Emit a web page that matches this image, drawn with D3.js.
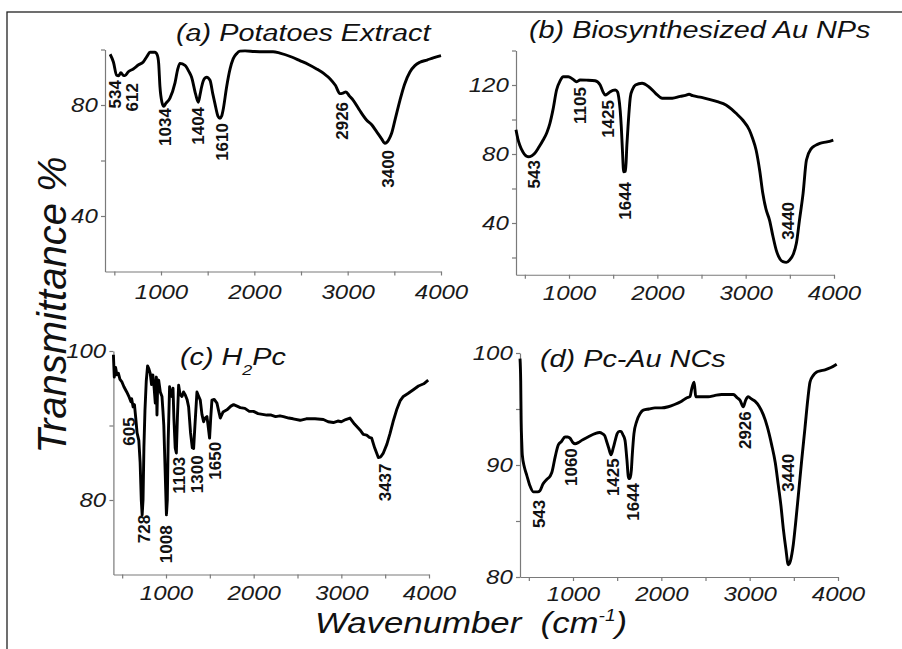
<!DOCTYPE html>
<html>
<head>
<meta charset="utf-8">
<title>FTIR spectra</title>
<script src="https://cdn.jsdelivr.net/npm/d3@7"></script>
<style>
  body { margin: 0; background: #fff; }
  text { font-family: "Liberation Sans", Arial, sans-serif; }
</style>
</head>
<body>
<div id="chart"></div>
<script>
// (a) Potatoes Extract
var waveA = [455, 490, 525, 545, 570, 600, 614, 650, 703, 760, 810, 850, 882, 935, 960, 975, 989, 1010, 1030, 1050,
  1096, 1150, 1180, 1203, 1257, 1300, 1328, 1370, 1400, 1420, 1435, 1465, 1489, 1525, 1555, 1578, 1610, 1632, 1650, 1667,
  1703, 1740, 1774, 1810, 1846, 1900, 2000, 2100, 2200, 2274, 2400, 2488, 2580, 2667, 2750, 2810, 2870, 2917, 2950, 2981,
  3020, 3060, 3130, 3202, 3260, 3310, 3360, 3400, 3440, 3471, 3510, 3560, 3610, 3667, 3720, 3774, 3850, 3917, 4000];
var transA = [98.3, 95.5, 90.7, 90.5, 91.6, 90.6, 90.6, 92, 93, 94.5, 95.5, 97.5, 99, 99, 98, 95, 86.5, 81, 79.5, 80.5,
  82.5, 88, 93, 95, 94.3, 92, 90, 84, 81, 84, 86.5, 89.5, 90, 88.9, 84, 80.5, 76, 75.2, 76, 78.5,
  86.5, 93, 96.7, 98.5, 99.4, 99.5, 99.3, 99.2, 99.2, 98.7, 97.3, 96, 94.6, 93, 91.2, 89.5, 87, 84.1, 84.3, 84.7,
  83.2, 81.7, 78, 74.6, 72.8, 70.4, 68, 66.2, 67.5, 69.8, 75, 81.7, 87.5, 91.9, 94.2, 95.4, 96.2, 97, 97.8];
var peaksA = [["534", 507, 89.0], ["612", 686, 87.9], ["1034", 1043, 78.9], ["1404", 1400, 79.3],
  ["1610", 1650, 73.5], ["2926", 2942, 81.1], ["3400", 3435, 63.8]];

// (b) Biosynthesized Au NPs
var waveB = [400, 420, 442, 480, 537, 580, 613, 660, 707, 750, 784, 820, 859, 900, 935, 992, 1040, 1087, 1125, 1200,
  1296, 1353, 1385, 1410, 1440, 1467, 1524, 1550, 1562, 1580, 1592, 1605, 1619, 1640, 1655, 1668, 1695, 1720, 1752, 1827,
  1903, 1980, 2055, 2169, 2260, 2320, 2359, 2400, 2500, 2587, 2680, 2777, 2840, 2891, 2966, 3042, 3080, 3118, 3160, 3194,
  3230, 3270, 3310, 3346, 3390, 3422, 3460, 3498, 3540, 3574, 3610, 3650, 3688, 3745, 3790, 3840, 3920, 3992];
var transB = [94, 89, 85.2, 81, 78.4, 79, 80.4, 84, 88.1, 92.5, 97.8, 106, 117.1, 122.5, 124.8, 124.8, 123.5, 121.9, 122.9, 122.8,
  122.5, 120, 116, 114.2, 115, 116.1, 117.1, 116, 113.2, 105, 95.8, 82, 69.7, 70, 85, 95.8, 113.2, 117.5, 120, 121,
  119, 115.2, 112.3, 112.3, 113.4, 114, 114.6, 113.8, 112.8, 111.7, 110.3, 108.4, 106, 103.6, 99.7, 93.9, 88.8, 82.3, 70, 57.2,
  48, 41.7, 32, 24.3, 19, 17.6, 17.2, 18.6, 22, 28.2, 42, 57.2, 76.5, 83.3, 85, 86.2, 87, 88.1];
var peaksB = [["543", 607, 76.5], ["1105", 1125, 118.8], ["1425", 1445, 111.3],
  ["1644", 1634, 63.8], ["3440", 3482, 52.2]];

// (c) H2Pc
var waveC = [400, 410, 425, 440, 457, 475, 495, 520, 552, 580, 600, 608, 625, 640, 655, 670, 690, 705, 718, 728,
  738, 748, 760, 775, 790, 805, 820, 835, 850, 865, 878, 890, 897, 905, 916, 935, 954, 965, 975, 990,
  1005, 1015, 1025, 1041, 1055, 1068, 1080, 1090, 1105, 1118, 1130, 1144, 1160, 1182, 1200, 1220, 1240, 1258, 1280, 1300,
  1315, 1330, 1353, 1370, 1391, 1410, 1429, 1445, 1467, 1480, 1497, 1510, 1524, 1550, 1581, 1600, 1619, 1650, 1695, 1740,
  1771, 1810, 1847, 1900, 1950, 1998, 2050, 2100, 2150, 2200, 2250, 2300, 2340, 2400, 2450, 2530, 2600, 2700, 2795, 2850,
  2909, 2960, 3000, 3050, 3099, 3150, 3213, 3250, 3289, 3320, 3346, 3380, 3422, 3450, 3479, 3520, 3555, 3590, 3631, 3670,
  3707, 3760, 3821, 3880, 3940, 3991];
var transC = [99.5, 96.5, 97.8, 96.8, 97, 96.2, 95.9, 95.2, 94.5, 93.8, 93.2, 93.6, 92.5, 92.8, 91, 89, 88, 85, 80, 78,
  80, 87, 92, 96, 98, 97.6, 97, 95.5, 96.8, 95, 93, 96.5, 91.4, 95.5, 96.1, 94.5, 93.9, 92, 90, 84,
  78, 80, 88, 95.2, 94, 93.9, 95, 91, 87, 86.3, 91, 95.4, 94.2, 93.9, 94.5, 94.1, 93.5, 92.5, 89, 87,
  86.9, 90, 94.5, 94, 93.4, 91.5, 90.5, 91, 91.2, 90, 88.3, 91, 93.4, 93.5, 93, 92, 91, 91.8, 92.1, 92.6,
  92.8, 92.6, 92.4, 92.3, 91.9, 91.9, 91.6, 91.5, 91.4, 91.4, 91.2, 91.3, 91.2, 91.0, 90.9, 90.7, 90.9, 90.9, 90.8, 90.5,
  90.4, 90.6, 90.5, 90.8, 91, 90.2, 89.4, 88.8, 88.7, 88.4, 88.3, 87, 85.7, 85.8, 86.3, 87.5, 88.9, 90.5, 92.1, 93.3,
  93.9, 94.3, 94.8, 95.3, 95.6, 96.1];
var peaksC = [["605", 581, 91.1], ["728", 749, 78.0], ["1008", 997, 76.6], ["1103", 1149, 85.8],
  ["1300", 1357, 86.0], ["1650", 1559, 87.8], ["3437", 3499, 84.9]];

// (d) Pc-Au NCs
var waveD = [400, 408, 413, 420, 426, 450, 476, 510, 551, 600, 626, 660, 702, 740, 759, 800, 834, 870, 909, 940,
  966, 1000, 1023, 1060, 1098, 1170, 1249, 1300, 1332, 1360, 1381, 1405, 1430, 1455, 1475, 1500, 1525, 1543, 1565, 1589,
  1610, 1630, 1645, 1660, 1671, 1690, 1721, 1760, 1796, 1860, 1928, 2000, 2079, 2150, 2230, 2290, 2324, 2344, 2370, 2380,
  2389, 2450, 2532, 2600, 2683, 2760, 2815, 2860, 2890, 2928, 2955, 2984, 3020, 3060, 3110, 3154, 3200, 3249, 3290, 3324,
  3355, 3381, 3410, 3437, 3460, 3494, 3520, 3551, 3590, 3626, 3660, 3683, 3720, 3759, 3800, 3853, 3920, 3985];
var transD = [99.5, 97.5, 94, 92, 90.9, 89.8, 89.1, 88.2, 87.6, 87.6, 87.7, 88.3, 88.7, 89, 89.3, 90.8, 91.8, 92.1, 92.5, 92.5,
  92.4, 92, 91.9, 92, 92.2, 92.5, 92.8, 92.9, 92.8, 92.6, 92.1, 91.5, 90.9, 91.5, 92.1, 92.8, 93, 93, 92.7, 92.2,
  90.5, 88.8, 88.8, 89.5, 90.9, 92.8, 93.9, 94.6, 94.9, 95, 95.1, 95.1, 95.2, 95.4, 95.7, 96, 96.1, 96.8, 97.4, 96.8,
  96.1, 96.1, 96.1, 96.2, 96.3, 96.3, 96.3, 96, 95.8, 95.2, 95.8, 96.1, 95.9, 95.7, 95.2, 94.5, 93.4, 91.8, 90.2, 88.2,
  86.3, 84.3, 82.5, 81.1, 81.4, 82.9, 84.8, 87.3, 90.5, 93.3, 96, 97.4, 98, 98.3, 98.4, 98.5, 98.7, 99];
var peaksD = [["543", 618, 86.9], ["1060", 977, 91.5], ["1425", 1456, 90.6], ["1644", 1683, 88.4],
  ["2926", 2947, 94.8], ["3440", 3437, 91.0]];

var xTicks = [500, 1000, 1500, 2000, 2500, 3000, 3500, 4000];
var xTickLabels = [1000, 2000, 3000, 4000];

var width = 902, height = 649;
var sx = 1.2; // glyphs in the original are stretched sideways

var svg = d3.select('#chart').append('svg')
  .attr('width', width)
  .attr('height', height);

svg.append('rect')
  .attr('x', 7).attr('y', 12)
  .attr('width', 920).attr('height', 700)
  .attr('fill', 'none')
  .attr('stroke', '#222')
  .attr('stroke-width', 1.3);

var panels = [
  { wave: waveA, trans: transA, peaks: peaksA, x: [105, 441], y: [271.5, 49.5], dom: [20, 100],
    yTicks: [40, 60, 80, 100], yLabels: [40, 80], pad: 9, title: '(a) Potatoes Extract', tx: 176, ty: 41, smooth: true },
  { wave: waveB, trans: transB, peaks: peaksB, x: [516, 834], y: [274.75, 50.5], dom: [10, 140],
    yTicks: [20, 40, 60, 80, 100, 120, 140], yLabels: [40, 80, 120], pad: 7, title: '(b) Biosynthesized Au NPs', tx: 529, ty: 38, smooth: true },
  { wave: waveC, trans: transC, peaks: peaksC, x: [113.4, 429], y: [574.5, 351], dom: [70, 100],
    yTicks: [80, 90, 100], yLabels: [80, 100], pad: 7, title: null, tx: 180, ty: 365, smooth: false },
  { wave: waveD, trans: transD, peaks: peaksD, x: [520, 838], y: [577, 353], dom: [80, 100],
    yTicks: [85, 90, 95, 100], yLabels: [80, 90, 100], pad: 6, title: '(d) Pc-Au NCs', tx: 540, ty: 367, smooth: true }
];

panels.forEach(p => {
  var x = d3.scaleLinear().domain([400, 4000]).range(p.x);
  var y = d3.scaleLinear().domain(p.dom).range(p.y);
  var g = svg.append('g');

  var xAxis = g.append('g')
    .attr('transform', `translate(0,${p.y[0]})`)
    .call(d3.axisBottom(x)
      .tickValues(xTicks)
      .tickSize(4)
      .tickSizeOuter(0)
      .tickPadding(p.pad)
      .tickFormat(d => xTickLabels.includes(d) ? d : ''));

  var yAxis = g.append('g')
    .attr('transform', `translate(${p.x[0]},0)`)
    .call(d3.axisLeft(y)
      .tickValues(p.yTicks.concat(p.yLabels.filter(v => !p.yTicks.includes(v))))
      .tickSize(4)
      .tickSizeOuter(0)
      .tickPadding(2)
      .tickFormat(d => p.yLabels.includes(d) ? d : ''));

  [xAxis, yAxis].forEach(a => {
    a.select('.domain').attr('stroke', '#7a7a7a').attr('stroke-width', 1.2);
    a.selectAll('.tick line').attr('stroke', '#7a7a7a').attr('stroke-width', 1.2);
    a.selectAll('.tick text')
      .attr('fill', '#1a1a1a')
      .attr('font-size', 20)
      .attr('font-style', 'italic')
      .attr('transform', `scale(${sx},1)`);
  });

  var line = d3.line()
    .x((d, i) => x(p.wave[i]))
    .y(d => y(d))
    .curve(p.smooth ? d3.curveMonotoneX : d3.curveLinear);

  g.append('path')
    .datum(p.trans)
    .attr('d', line)
    .attr('fill', 'none')
    .attr('stroke', '#000')
    .attr('stroke-width', 2.9)
    .attr('stroke-linejoin', 'round');

  g.selectAll('.peak')
    .data(p.peaks)
    .enter()
    .append('text')
      .attr('class', 'peak')
      .attr('transform', d => `translate(${x(d[1])},${y(d[2])}) rotate(-90)`)
      .attr('dy', '0.36em')
      .attr('text-anchor', 'end')
      .attr('font-size', 17)
      .attr('font-weight', 'bold')
      .attr('fill', '#111')
      .text(d => d[0]);

  var t = g.append('text')
    .attr('transform', `translate(${p.tx},${p.ty}) scale(${sx},1)`)
    .attr('font-size', 24)
    .attr('font-style', 'italic')
    .attr('fill', '#111');
  if (p.title) {
    t.text(p.title);
  } else {
    t.append('tspan').text('(c) H');
    t.append('tspan').attr('font-size', 15).attr('dy', 10).text('2');
    t.append('tspan').attr('dy', -10).text('Pc');
  }
});

// shared axis titles
svg.append('text')
  .attr('transform', 'translate(66,305) rotate(-90)')
  .attr('text-anchor', 'middle')
  .attr('font-size', 40)
  .attr('font-style', 'italic')
  .attr('fill', '#111')
  .text('Transmittance %');

var xt = svg.append('text')
  .attr('transform', `translate(315,633) scale(${sx},1)`)
  .attr('font-size', 29)
  .attr('font-style', 'italic')
  .attr('fill', '#111');
xt.append('tspan').text('Wavenumber\u00a0\u00a0(cm');
xt.append('tspan').attr('font-size', 16).attr('dy', -12).text('-1');
xt.append('tspan').attr('dy', 12).text(')');
</script>
</body>
</html>
